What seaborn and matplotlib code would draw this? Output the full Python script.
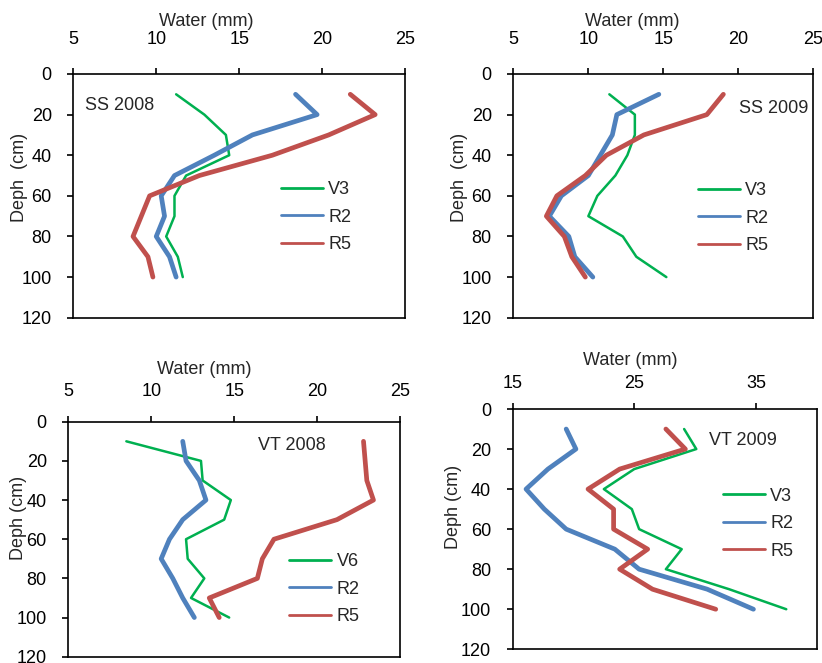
import matplotlib.pyplot as plt
import pandas as pd
import seaborn as sns

depth = [10, 20, 30, 40, 50, 60, 70, 80, 90, 100]

# SS 2008
ss08_v3 = [11.2, 12.9, 14.2, 14.4, 11.8, 11.1, 11.1, 10.6, 11.3, 11.6]
ss08_r2 = [18.4, 19.7, 15.8, 13.5, 11.1, 10.3, 10.5, 10.0, 10.8, 11.2]
ss08_r5 = [21.7, 23.2, 20.4, 17.0, 12.6, 9.6, 9.1, 8.6, 9.5, 9.8]

# SS 2009
ss09_v3 = [11.4, 13.1, 13.1, 12.6, 11.8, 10.6, 10.0, 12.3, 13.2, 15.2]
ss09_r2 = [14.7, 11.9, 11.6, 10.8, 10.0, 8.2, 7.4, 8.7, 9.1, 10.3]
ss09_r5 = [19.0, 17.9, 13.7, 11.2, 9.8, 7.9, 7.2, 8.4, 8.9, 9.8]

# VT 2008
vt08_v6 = [8.5, 13.0, 13.1, 14.8, 14.4, 12.1, 12.2, 13.2, 12.4, 14.7]
vt08_r2 = [11.9, 12.1, 12.9, 13.3, 11.9, 11.1, 10.6, 11.3, 11.9, 12.6]
vt08_r5 = [22.8, 22.9, 23.0, 23.4, 21.2, 17.4, 16.7, 16.4, 13.5, 14.1]

# VT 2009
vt09_v3 = [29.1, 30.1, 25.0, 22.5, 24.8, 25.4, 28.9, 27.6, 32.8, 37.5]
vt09_r2 = [19.4, 20.2, 17.9, 16.1, 17.6, 19.4, 23.4, 25.4, 31.0, 34.8]
vt09_r5 = [27.6, 29.2, 23.8, 21.2, 23.3, 23.3, 26.1, 23.8, 26.5, 31.7]

green = "#00B050"
blue = "#4F81BD"
red = "#C0504D"

sns.set_theme(style="ticks", rc={
    "axes.edgecolor": "black",
    "axes.linewidth": 1.2,
    "xtick.color": "black",
    "ytick.color": "black",
})
plt.rcParams["font.family"] = ["Liberation Sans", "DejaVu Sans"]

FS = 13

fig = plt.figure(figsize=(8.22, 6.63), dpi=100)

panels = [
    # rect, name, series, xlim, xticks, text pos, legend pos, ylabel, ylabel pos, xlabel pos, x pad
    ([0.0892, 0.5208, 0.4035, 0.3676], "SS 2008",
     [("V3", ss08_v3, green), ("R2", ss08_r2, blue), ("R5", ss08_r5, red)],
     (5, 25), [5, 10, 15, 20, 25], (0.035, 0.871), (0.625, 0.56),
     "Deph  (cm)", (-0.137, 0.577), (0.40, 1.195), 15),
    ([0.6245, 0.5208, 0.365, 0.3676], "SS 2009",
     [("V3", ss09_v3, green), ("R2", ss09_r2, blue), ("R5", ss09_r5, red)],
     (5, 25), [5, 10, 15, 20, 25], (0.752, 0.86), (0.615, 0.556),
     "Deph  (cm)", (-0.151, 0.577), (0.397, 1.195), 15),
    ([0.0831, 0.0095, 0.4035, 0.3544], "VT 2008",
     [("V6", vt08_v6, green), ("R2", vt08_r2, blue), ("R5", vt08_r5, red)],
     (5, 25), [5, 10, 15, 20, 25], (0.571, 0.90), (0.666, 0.44),
     "Deph (cm)", (-0.125, 0.59), (0.41, 1.205), 11.5),
    ([0.6237, 0.0207, 0.3698, 0.3624], "VT 2009",
     [("V3", vt09_v3, green), ("R2", vt09_r2, blue), ("R5", vt09_r5, red)],
     (15, 40), [15, 25, 35], (0.647, 0.867), (0.691, 0.672),
     "Deph (cm)", (-0.168, 0.592), (0.386, 1.182), 8.5),
]

for rect, name, series, xlim, xticks, tpos, lpos, ylab, ylpos, xlpos, xpad in panels:
    ax = fig.add_axes(rect)
    for label, values, color in series:
        df = pd.DataFrame({"water": values, "depth": depth})
        lw = 1.8 if color == green else 3.4
        sns.lineplot(data=df, x="water", y="depth", orient="y", estimator=None,
                     color=color, linewidth=lw, label=label, ax=ax)

    ax.set_xlim(*xlim)
    ax.set_xticks(xticks)
    ax.set_ylim(120, 0)
    ax.set_yticks([0, 20, 40, 60, 80, 100, 120])
    ax.xaxis.tick_top()
    ax.xaxis.set_label_position("top")
    ax.tick_params(axis="x", direction="out", length=4, width=1.2, pad=xpad, labelsize=FS)
    ax.tick_params(axis="y", direction="out", length=4, width=1.2, pad=11.5, labelsize=FS)

    ax.set_xlabel("Water (mm)", fontsize=FS)
    ax.xaxis.set_label_coords(*xlpos)
    ax.set_ylabel(ylab, fontsize=FS)
    ax.yaxis.set_label_coords(*ylpos)

    ax.text(tpos[0], tpos[1], name, transform=ax.transAxes, ha="left",
            va="center", fontsize=FS)

    leg = ax.legend(loc="upper left", bbox_to_anchor=lpos, frameon=False,
                    fontsize=FS, handlelength=2.33, handletextpad=0.3,
                    labelspacing=0.58, borderpad=0, borderaxespad=0)
    for line in leg.get_lines():
        line.set_linewidth(2.0)

fig.savefig("out.png", dpi=100)
